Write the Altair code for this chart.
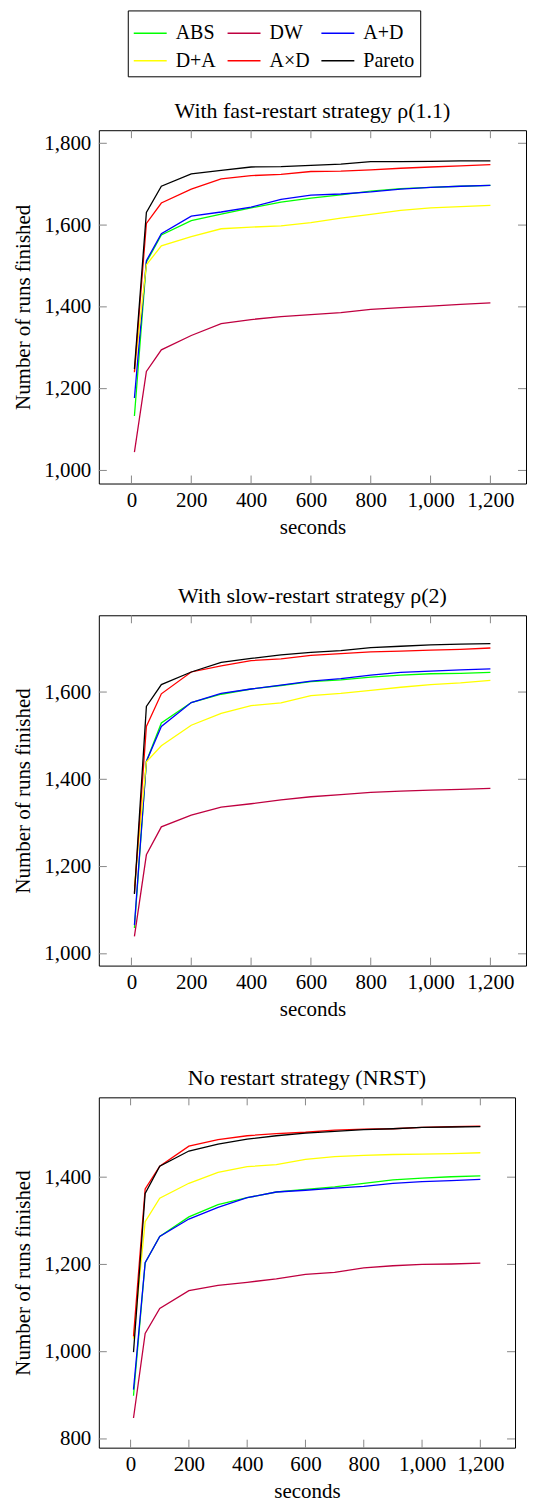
import altair as alt
import pandas as pd

SERIES = ["ABS", "DW", "A+D", "D+A", "A×D", "Pareto"]
COLORS = ["#00ff00", "#bf0040", "#0000ff", "#ffff00", "#ff0000", "#000000"]
SECONDS = [10, 50, 100, 200, 300, 400, 500, 600, 700, 800, 900, 1000, 1100, 1200]
XTICKS = [0, 200, 400, 600, 800, 1000, 1200]

# Panel 1: fast-restart
FAST_ABS = [1133, 1509, 1576, 1611, 1627, 1642, 1656, 1666, 1674, 1683, 1689, 1692, 1695, 1697]
FAST_DW = [1045, 1242, 1295, 1330, 1359, 1369, 1376, 1381, 1386, 1394, 1398, 1402, 1406, 1410]
FAST_AD = [1177, 1513, 1579, 1622, 1632, 1644, 1663, 1673, 1676, 1681, 1688, 1692, 1695, 1697]
FAST_DA = [1243, 1503, 1549, 1572, 1591, 1595, 1598, 1606, 1617, 1626, 1636, 1642, 1645, 1648]
FAST_AXD = [1240, 1604, 1654, 1688, 1713, 1721, 1724, 1731, 1732, 1735, 1739, 1742, 1745, 1748]
FAST_PARETO = [1248, 1631, 1695, 1725, 1734, 1742, 1743, 1746, 1749, 1755, 1755, 1756, 1757, 1757]

# Panel 2: slow-restart
SLOW_ABS = [1059, 1441, 1529, 1576, 1595, 1607, 1615, 1624, 1628, 1634, 1639, 1642, 1643, 1645]
SLOW_DW = [1040, 1227, 1291, 1318, 1336, 1344, 1353, 1360, 1365, 1370, 1373, 1375, 1377, 1379]
SLOW_AD = [1066, 1441, 1521, 1576, 1597, 1607, 1616, 1625, 1631, 1639, 1645, 1648, 1651, 1653]
SLOW_DA = [1155, 1440, 1477, 1524, 1551, 1569, 1575, 1592, 1597, 1604, 1611, 1617, 1621, 1627]
SLOW_AXD = [1140, 1521, 1596, 1646, 1660, 1672, 1676, 1684, 1688, 1692, 1694, 1696, 1698, 1701]
SLOW_PARETO = [1137, 1567, 1617, 1646, 1668, 1677, 1685, 1691, 1695, 1702, 1705, 1708, 1710, 1711]

# Panel 3: no restart
NRST_ABS = [899, 1204, 1264, 1309, 1337, 1353, 1366, 1372, 1378, 1386, 1394, 1398, 1401, 1403]
NRST_DW = [848, 1042, 1099, 1140, 1152, 1159, 1167, 1177, 1182, 1192, 1197, 1200, 1201, 1203]
NRST_AD = [913, 1204, 1264, 1304, 1331, 1353, 1366, 1370, 1375, 1379, 1386, 1390, 1392, 1395]
NRST_DA = [1030, 1298, 1352, 1386, 1411, 1424, 1429, 1441, 1447, 1450, 1452, 1453, 1454, 1456]
NRST_AXD = [1035, 1373, 1425, 1471, 1486, 1495, 1500, 1503, 1508, 1510, 1511, 1514, 1516, 1517]
NRST_PARETO = [999, 1363, 1425, 1460, 1476, 1487, 1495, 1501, 1505, 1509, 1511, 1514, 1515, 1516]

FONT = "Liberation Serif"
FS = 21
TITLE_FS = 22
LEGEND_FS = 20
TICK_LEN = 8
TICK_COLOR = "#888888"


def panel(title, series_values, ydom, yticks, width, height):
    rows = []
    for s, vals in zip(SERIES, series_values):
        for t, v in zip(SECONDS, vals):
            rows.append({"series": s, "t": t, "v": v})
    df = pd.DataFrame(rows)
    xs = alt.Scale(domain=[-109, 1319], nice=False, zero=False)
    ys = alt.Scale(domain=ydom, nice=False, zero=False)
    xaxis = alt.Axis(values=XTICKS, format=",d", title="seconds")
    yaxis = alt.Axis(values=yticks, format=",d", title="Number of runs finished")

    lines = alt.Chart(df).mark_line(strokeWidth=1.3, clip=True).encode(
        x=alt.X("t:Q", scale=xs, axis=xaxis),
        y=alt.Y("v:Q", scale=ys, axis=yaxis),
        color=alt.Color(
            "series:N",
            scale=alt.Scale(domain=SERIES, range=COLORS),
            legend=alt.Legend(
                title=None, orient="none", legendX=29, legendY=-120,
                direction="horizontal", columns=3, symbolType="stroke",
                symbolSize=1089, symbolStrokeWidth=1.5, labelFont=FONT,
                labelFontSize=LEGEND_FS, labelColor="black",
                strokeColor="black", fillColor="white", padding=5,
                columnPadding=8, rowPadding=-5, labelOffset=8,
            ),
        ),
    )

    xt = pd.DataFrame({"t": XTICKS})
    yt = pd.DataFrame({"v": yticks})
    top = alt.Chart(xt).mark_rule(color=TICK_COLOR, strokeWidth=1).encode(
        x=alt.X("t:Q", scale=xs, axis=xaxis),
        y=alt.value(0), y2=alt.value(TICK_LEN))
    bottom = alt.Chart(xt).mark_rule(color=TICK_COLOR, strokeWidth=1).encode(
        x=alt.X("t:Q", scale=xs, axis=xaxis),
        y=alt.value(height - TICK_LEN), y2=alt.value(height))
    left = alt.Chart(yt).mark_rule(color=TICK_COLOR, strokeWidth=1).encode(
        y=alt.Y("v:Q", scale=ys, axis=yaxis),
        x=alt.value(0), x2=alt.value(TICK_LEN))
    right = alt.Chart(yt).mark_rule(color=TICK_COLOR, strokeWidth=1).encode(
        y=alt.Y("v:Q", scale=ys, axis=yaxis),
        x=alt.value(width - TICK_LEN), x2=alt.value(width))

    return alt.layer(top, bottom, left, right, lines).properties(
        width=width, height=height,
        title=alt.TitleParams(title, font=FONT, fontSize=TITLE_FS,
                              fontWeight="normal", color="black", offset=7),
    )


p1 = panel("With fast-restart strategy ρ(1.1)",
           [FAST_ABS, FAST_DW, FAST_AD, FAST_DA, FAST_AXD, FAST_PARETO],
           [968, 1832], [1000, 1200, 1400, 1600, 1800], 428, 354)
p2 = panel("With slow-restart strategy ρ(2)",
           [SLOW_ABS, SLOW_DW, SLOW_AD, SLOW_DA, SLOW_AXD, SLOW_PARETO],
           [973, 1776], [1000, 1200, 1400, 1600], 428, 351)
p3 = panel("No restart strategy (NRST)",
           [NRST_ABS, NRST_DW, NRST_AD, NRST_DA, NRST_AXD, NRST_PARETO],
           [780, 1583], [800, 1000, 1200, 1400], 417, 351)

chart = alt.vconcat(p1, p2, p3, spacing=46).properties(
    padding={"left": 4, "top": 0, "right": 0, "bottom": 0}
).configure_view(
    stroke="black", strokeWidth=1
).configure_axis(
    labelFont=FONT, labelFontSize=FS, labelColor="black",
    titleFont=FONT, titleFontSize=FS, titleFontWeight="normal",
    titleColor="black", ticks=False, domain=False, grid=False,
).configure_axisX(
    labelPadding=6, titlePadding=6,
).configure_axisY(
    labelPadding=8, titlePadding=10,
).configure_concat(spacing=46)

chart.save("out.html", embed_options={"renderer": "svg", "actions": False})
